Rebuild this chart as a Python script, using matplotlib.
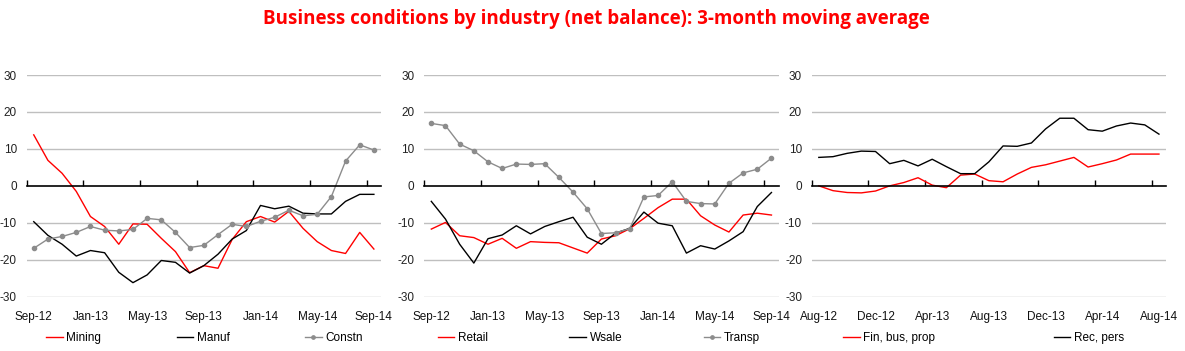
import numpy as np
import matplotlib
matplotlib.use("Agg")
import matplotlib.pyplot as plt

plt.rcParams['font.family'] = ['Liberation Sans', 'DejaVu Sans']
plt.rcParams['axes.unicode_minus'] = False

# ---- data (net balance, 3-month moving average) ----
labels_a = ["Sep-12", "Jan-13", "May-13", "Sep-13", "Jan-14", "May-14", "Sep-14"]
labels_b = ["Aug-12", "Dec-12", "Apr-13", "Aug-13", "Dec-13", "Apr-14", "Aug-14"]

mining = [13.8, 6.9, 3.4, -1.5, -8.3, -11.0, -15.8, -10.3, -10.4, -14.2, -17.8, -23.5, -21.6,
          -22.3, -14.5, -9.7, -8.3, -9.8, -6.9, -11.5, -15.1, -17.5, -18.3, -12.6, -17.1]
manuf = [-9.7, -13.4, -15.8, -19.0, -17.5, -18.1, -23.4, -26.2, -24.1, -20.2, -20.7, -23.6, -21.6,
         -18.5, -14.4, -12.1, -5.3, -6.2, -5.5, -7.4, -7.6, -7.6, -4.2, -2.3, -2.3]
constn = [-16.9, -14.4, -13.7, -12.6, -11.0, -12.0, -12.2, -11.8, -8.8, -9.2, -12.6, -16.7, -16.1,
          -13.2, -10.4, -11.0, -9.6, -8.5, -6.6, -8.1, -7.7, -2.9, 6.7, 11.1, 9.7]

retail = [-11.7, -9.9, -13.5, -14.0, -15.8, -14.2, -16.9, -15.1, -15.3, -15.4, -16.8, -18.2, -14.4,
          -13.5, -11.6, -8.8, -5.9, -3.6, -3.6, -8.1, -10.6, -12.5, -7.9, -7.4, -7.9]
wsale = [-4.2, -9.0, -15.8, -20.9, -14.3, -13.3, -10.8, -13.0, -11.0, -9.7, -8.5, -13.9, -15.8,
         -12.8, -11.5, -7.1, -10.1, -10.8, -18.2, -16.2, -17.1, -14.9, -12.4, -5.6, -1.8]
transp = [16.9, 16.3, 11.3, 9.5, 6.5, 4.7, 5.9, 5.8, 6.0, 2.3, -1.7, -6.2, -12.9,
          -12.7, -11.6, -3.0, -2.6, 1.1, -4.2, -4.8, -4.9, 0.7, 3.5, 4.5, 7.5]

finbus = [0.0, -1.3, -1.8, -1.9, -1.4, 0.0, 0.9, 2.2, 0.2, -0.5, 2.9, 3.2, 1.4,
          1.1, 3.2, 5.0, 5.7, 6.7, 7.7, 5.1, 6.0, 7.0, 8.6, 8.6, 8.6]
recpers = [7.7, 7.9, 8.8, 9.4, 9.3, 6.0, 6.9, 5.4, 7.2, 5.2, 3.3, 3.3, 6.5,
           10.8, 10.7, 11.6, 15.4, 18.3, 18.3, 15.2, 14.8, 16.2, 17.0, 16.5, 14.0]

RED = '#ff0000'
BLACK = '#000000'
GREY = '#8c8c8c'

fig = plt.figure(figsize=(11.85, 3.51), dpi=100)
fig.text(0.503, 0.945, "Business conditions by industry (net balance): 3-month moving average",
         ha='center', va='center', color=RED, fontsize=13.5, fontweight='bold', family='Open Sans')

# left, x labels, series, legend x0, expand legend?
panels = [
    (0.0225, labels_a, [(mining, "Mining", RED, None), (manuf, "Manuf", BLACK, None),
                        (constn, "Constn", GREY, 'o')], 0.025, True),
    (0.358, labels_a, [(retail, "Retail", RED, None), (wsale, "Wsale", BLACK, None),
                       (transp, "Transp", GREY, 'o')], 0.008, True),
    (0.685, labels_b, [(finbus, "Fin, bus, prop", RED, None), (recpers, "Rec, pers", BLACK, None)],
     0.059, False),
]

for left, xlabels, series, lx, expand in panels:
    ax = fig.add_axes([left, 0.1547, 0.299, 0.6316])
    x = np.arange(len(series[0][0]))
    for vals, name, col, mk in series:
        ax.plot(x, vals, color=col, lw=1.0, marker=mk, ms=3 if mk else 0, label=name)
    ax.set_xlim(-0.5, len(x) - 0.5)
    ax.set_ylim(-30, 30)
    ax.set_yticks([-30, -20, -10, 0, 10, 20, 30])
    for y in [-30, -20, -10, 10, 20, 30]:
        ax.axhline(y, color='#bfbfbf', lw=1.0, zorder=0)
    for s in ['top', 'right', 'left']:
        ax.spines[s].set_visible(False)
    ax.spines['bottom'].set_position(('data', 0))
    ax.spines['bottom'].set_linewidth(1.2)
    ax.set_xticks(np.arange(-0.5, len(x) - 1, 4))
    ax.tick_params(axis='x', direction='in', length=4, width=1, labelbottom=False)
    ax.tick_params(axis='y', length=0, pad=7, labelsize=8.5, labelcolor='#222222')

    sec = ax.secondary_xaxis('bottom')
    sec.spines['bottom'].set_visible(False)
    sec.set_xticks(np.arange(0, len(x), 4), xlabels)
    sec.tick_params(length=0, pad=10, labelsize=8.5, labelcolor='#111111')

    if expand:
        ax.legend(loc='upper left', bbox_to_anchor=(lx, -0.21, 0.978 - lx, 0.1), mode='expand',
                  ncol=len(series), frameon=False, fontsize=8.5, handlelength=1.4,
                  handletextpad=0.3, markerscale=0.8)
    else:
        ax.legend(loc='upper left', bbox_to_anchor=(lx, -0.11), ncol=len(series),
                  frameon=False, fontsize=8.5, handlelength=1.4, handletextpad=0.3,
                  columnspacing=10.05)

fig.savefig("out.png", dpi=100)
